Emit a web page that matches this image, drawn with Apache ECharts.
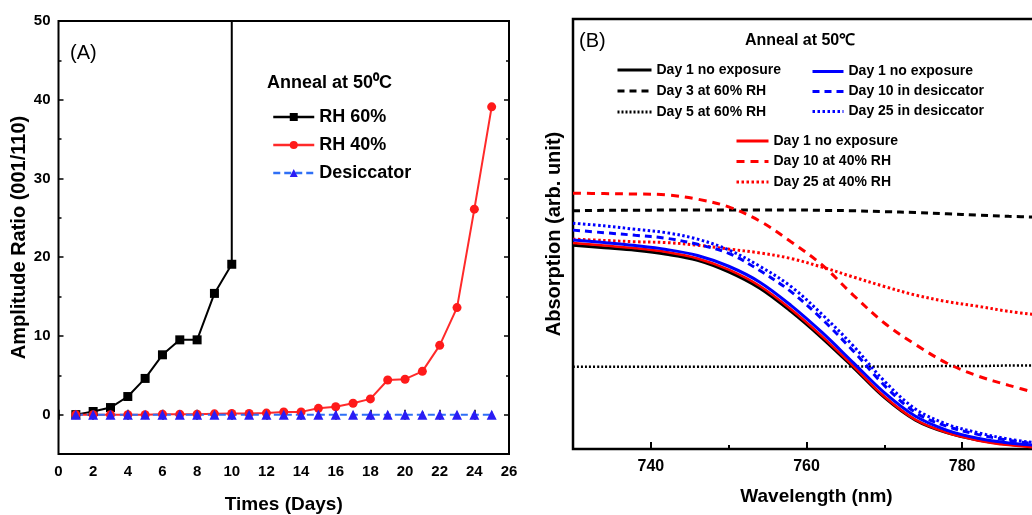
<!DOCTYPE html>
<html><head><meta charset="utf-8">
<script src="https://cdn.jsdelivr.net/npm/echarts@6/dist/echarts.min.js"></script>
<style>html,body{margin:0;padding:0;background:#fff}#c{width:1032px;height:515px}</style>
</head><body><div id="c"></div>
<script>
// ---------- Panel A data ----------
const days = [1,2,3,4,5,6,7,8,9,10,11,12,13,14,15,16,17,18,19,20,21,22,23,24,25];
const rh60 = [0, 0.4, 0.9, 2.3, 4.6, 7.6, 9.5, 9.5, 15.4, 19.1];
const rh60Jump = 60; // off-scale value reached right after day 10
const rh40 = [0, 0, 0, 0, 0, 0.05, 0.05, 0.05, 0.1, 0.15, 0.15, 0.2, 0.35, 0.35, 0.8, 1.0, 1.45, 2.0, 4.4, 4.5, 5.5, 8.8, 13.6, 26.1, 39.1];
const desiccator = [0,0,0,0,0,0,0,0,0,0,0,0,0,0,0,0,0,0,0,0,0,0,0,0,0];
const leftYLabels = [0, 10, 20, 30, 40, 50];
const leftYMinor = [-5, 5, 15, 25, 35, 45];

// ---------- Panel B data ----------
const wavelength = [730,734,738,742,746,750,754,758,762,766,770,774,778,782,786,790];
const blackDay1  = [0.474,0.468,0.462,0.453,0.439,0.412,0.374,0.320,0.258,0.190,0.120,0.067,0.038,0.021,0.011,0.005];
const blackDay3  = [0.554,0.555,0.555,0.556,0.556,0.556,0.556,0.556,0.555,0.554,0.552,0.550,0.547,0.544,0.541,0.539];
const blackDay5  = [0.191,0.191,0.191,0.191,0.191,0.191,0.191,0.191,0.192,0.192,0.192,0.192,0.193,0.193,0.194,0.194];
const blueDay1   = [0.486,0.480,0.473,0.464,0.450,0.425,0.388,0.334,0.271,0.201,0.131,0.076,0.044,0.025,0.014,0.008];
const blueDay10  = [0.509,0.503,0.497,0.490,0.476,0.455,0.415,0.366,0.302,0.228,0.148,0.085,0.053,0.034,0.020,0.011];
const blueDay25  = [0.525,0.519,0.511,0.503,0.488,0.463,0.425,0.378,0.313,0.240,0.158,0.093,0.058,0.038,0.023,0.013];
const redDay1    = [0.479,0.473,0.467,0.458,0.443,0.417,0.379,0.325,0.262,0.193,0.122,0.068,0.038,0.020,0.009,0.003];
const redDay10   = [0.595,0.594,0.593,0.591,0.581,0.563,0.530,0.482,0.428,0.358,0.293,0.243,0.200,0.170,0.148,0.128];
const redDay25   = [0.488,0.485,0.482,0.480,0.474,0.465,0.456,0.443,0.423,0.400,0.378,0.358,0.343,0.332,0.320,0.311];
const rightXLabels = [740, 760, 780];
const rightXMinor = [750, 770];

const FONT = "'Liberation Sans', Arial, sans-serif";
const pairs = (xs, ys) => ys.map((v, i) => [xs[i], v]);

const rh60Data = pairs(days, rh60);
rh60Data.push({ value: [days[rh60.length - 1], rh60Jump], symbol: 'none' });

const tickStyle = { color: '#000', width: 1.5 };
const labelStyle = { fontSize: 15, fontWeight: 'bold', color: '#000', fontFamily: FONT };
const nameStyleA = (size) => ({ fontSize: size, fontWeight: 'bold', color: '#000', fontFamily: FONT });

function bareAxis(extra) {
  return Object.assign({
    type: 'value', axisLine: { show: false }, splitLine: { show: false },
    axisLabel: { show: false }, axisTick: { show: false }
  }, extra);
}

const rightLine = (name, data, color, type, width) => ({
  name, type: 'line', xAxisIndex: 2, yAxisIndex: 4, data: pairs(wavelength, data),
  symbol: 'none', smooth: 0.35, color,
  lineStyle: { color, width, type }
});

const legendText = { fontSize: 14, fontWeight: 'bold', color: '#000', fontFamily: FONT, lineHeight: 16 };
const noSymbol = { opacity: 0 };
const legendLine = { width: 3 };

const option = {
  backgroundColor: '#fff',
  animation: false,
  grid: [
    { left: 58.5, top: 21, width: 450.5, height: 433, show: true, borderColor: '#000', borderWidth: 2, containLabel: false, outerBoundsMode: 'none' },
    { left: 573, top: 19, width: 467, height: 430, show: true, borderColor: '#000', borderWidth: 2.5, containLabel: false, outerBoundsMode: 'none' }
  ],
  xAxis: [
    bareAxis({ gridIndex: 0, min: 0, max: 26, interval: 2, position: 'bottom',
      axisTick: { show: true, inside: true, length: 5, lineStyle: tickStyle },
      minorTick: { show: true, splitNumber: 2, length: 3, lineStyle: tickStyle },
      axisLabel: Object.assign({ show: true, margin: 10 }, labelStyle),
      name: 'Times (Days)', nameLocation: 'middle', nameGap: 41, nameTextStyle: nameStyleA(19) }),
    bareAxis({ gridIndex: 0, min: 0, max: 26, interval: 2, position: 'top',
      axisTick: { show: true, inside: true, length: 5, lineStyle: tickStyle },
      minorTick: { show: true, splitNumber: 2, length: 3, lineStyle: tickStyle } }),
    bareAxis({ gridIndex: 1, min: 730, max: 790, position: 'bottom',
      axisTick: { show: true, inside: true, length: 7, customValues: rightXLabels, lineStyle: { color: '#000', width: 2 } },
      axisLabel: Object.assign({ show: true, margin: 10, customValues: rightXLabels }, labelStyle, { fontSize: 16 }),
      name: 'Wavelength (nm)', nameLocation: 'middle', nameGap: 38,
      nameTextStyle: Object.assign(nameStyleA(19), { padding: [0, 0, 0, 20] }) }),
    bareAxis({ gridIndex: 1, min: 730, max: 790, position: 'bottom',
      axisTick: { show: true, inside: true, length: 4, customValues: rightXMinor, lineStyle: { color: '#000', width: 2 } } })
  ],
  yAxis: [
    bareAxis({ gridIndex: 0, min: -5, max: 50, position: 'left',
      axisTick: { show: true, inside: true, length: 5, customValues: leftYLabels, lineStyle: tickStyle },
      axisLabel: Object.assign({ show: true, margin: 8, customValues: leftYLabels }, labelStyle),
      name: 'Amplitude Ratio (001/110)', nameLocation: 'middle', nameGap: 24, nameTextStyle: nameStyleA(20) }),
    bareAxis({ gridIndex: 0, min: -5, max: 50, position: 'left',
      axisTick: { show: true, inside: true, length: 3, customValues: leftYMinor, lineStyle: tickStyle } }),
    bareAxis({ gridIndex: 0, min: -5, max: 50, position: 'right',
      axisTick: { show: true, inside: true, length: 5, customValues: leftYLabels, lineStyle: tickStyle } }),
    bareAxis({ gridIndex: 0, min: -5, max: 50, position: 'right',
      axisTick: { show: true, inside: true, length: 3, customValues: leftYMinor, lineStyle: tickStyle } }),
    bareAxis({ gridIndex: 1, min: 0, max: 1, position: 'left',
      name: 'Absorption (arb. unit)', nameLocation: 'middle', nameGap: 9, nameTextStyle: nameStyleA(20) })
  ],
  legend: [
    { left: 267, top: 102, orient: 'vertical', itemWidth: 41, itemHeight: 10, itemGap: 8,
      lineStyle: { width: 2.5 },
      textStyle: { fontSize: 18, fontWeight: 'bold', color: '#000', fontFamily: FONT, lineHeight: 20 },
      data: ['RH 60%', 'RH 40%', 'Desiccator'] },
    { left: 616, top: 62, orient: 'vertical', itemWidth: 34, itemHeight: 10, itemGap: 5, padding: 0,
      textStyle: legendText, formatter: n => n.trim(), itemStyle: noSymbol, lineStyle: legendLine,
      data: ['Day 1 no exposure', 'Day 3 at 60% RH', 'Day 5 at 60% RH'] },
    { left: 811, top: 63.5, orient: 'vertical', itemWidth: 31, itemHeight: 10, itemGap: 4, padding: 0,
      textStyle: legendText, formatter: n => n.trim(), itemStyle: noSymbol, lineStyle: legendLine,
      data: ['Day 1 no exposure ', 'Day 10 in desiccator', 'Day 25 in desiccator'] },
    { left: 735, top: 133, orient: 'vertical', itemWidth: 32, itemHeight: 10, itemGap: 4.5, padding: 0,
      textStyle: legendText, formatter: n => n.trim(), itemStyle: noSymbol, lineStyle: legendLine,
      data: ['Day 1 no exposure  ', 'Day 10 at 40% RH', 'Day 25 at 40% RH'] }
  ],
  graphic: [
    { type: 'text', x: 70, y: 53, style: { text: '(A)', fontSize: 20, fontFamily: FONT, fill: '#000', verticalAlign: 'middle' } },
    { type: 'text', x: 267, y: 83, style: { text: 'Anneal at 50\u2070C', fontSize: 18, fontWeight: 'bold', fontFamily: FONT, fill: '#000', verticalAlign: 'middle' } },
    { type: 'text', x: 579, y: 41, style: { text: '(B)', fontSize: 20, fontFamily: FONT, fill: '#000', verticalAlign: 'middle' } },
    { type: 'text', x: 745, y: 41, style: { text: 'Anneal at 50\u2103', fontSize: 16, fontWeight: 'bold', fontFamily: FONT, fill: '#000', verticalAlign: 'middle' } }
  ],
  series: [
    { name: 'RH 60%', type: 'line', xAxisIndex: 0, yAxisIndex: 0, data: rh60Data,
      symbol: 'rect', symbolSize: 9, color: '#000', lineStyle: { color: '#000', width: 2 }, itemStyle: { color: '#000' } },
    { name: 'RH 40%', type: 'line', xAxisIndex: 0, yAxisIndex: 0, data: pairs(days, rh40),
      symbol: 'circle', symbolSize: 9, color: '#ff1a1a', lineStyle: { color: '#ff2a2a', width: 2 }, itemStyle: { color: '#ff1a1a' } },
    { name: 'Desiccator', type: 'line', xAxisIndex: 0, yAxisIndex: 0, data: pairs(days, desiccator),
      symbol: 'triangle', symbolSize: 10, color: '#2a1cf5', lineStyle: { color: '#2f6ff5', width: 2, type: [7, 4] }, itemStyle: { color: '#2a1cf5' } },

    rightLine('Day 1 no exposure', blackDay1, '#000', 'solid', 3),
    rightLine('Day 3 at 60% RH', blackDay3, '#000', [7, 5], 3),
    rightLine('Day 5 at 60% RH', blackDay5, '#000', [2, 2], 2.5),
    rightLine('Day 1 no exposure  ', redDay1, '#ff0000', 'solid', 2.5),
    rightLine('Day 10 at 40% RH', redDay10, '#ff0000', [8, 6], 3),
    rightLine('Day 25 at 40% RH', redDay25, '#ff0000', [2.5, 2.5], 3),
    rightLine('Day 1 no exposure ', blueDay1, '#0000ff', 'solid', 3),
    rightLine('Day 10 in desiccator', blueDay10, '#0000ff', [7, 5], 3),
    rightLine('Day 25 in desiccator', blueDay25, '#0000ff', [2.5, 2.5], 3)
  ]
};

const chart = echarts.init(document.getElementById('c'), null, { renderer: 'canvas' });
chart.setOption(option);
</script></body></html>
